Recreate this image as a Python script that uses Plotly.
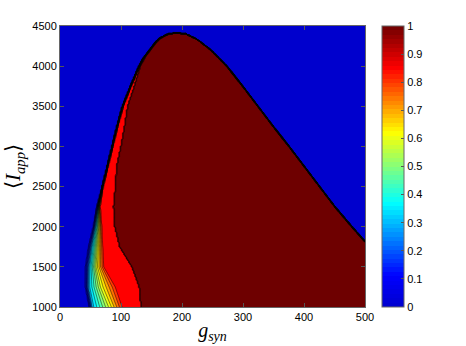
import numpy as np
import plotly.graph_objects as go

i_app = [1000, 1250, 1500, 1750, 2000, 2250, 2500, 2750, 3000, 3250,
         3500, 3750, 4000, 4100, 4200, 4300, 4350, 4400, 4417]
# g_syn where the value leaves 0 (left edge)
g_edge = [47, 41, 41, 46, 54, 60, 69, 77, 85, 93, 102, 115, 129, 136, 146, 156, 163, 176, 191]
# g_syn where the value reaches ~0.3 (light blue)
g_low = [53, 47, 48, 52, 58, 62, 69.5, 77.5, 85.5, 93.5, 102.5, 115.5, 129.5, 136.5, 146.5, 156.5, 163.5, 176.5, 191]
# g_syn where the value reaches ~0.6 (yellow)
g_high = [82, 68, 60, 62, 64, 64, 70, 78, 86, 94, 103, 116, 130, 137, 147, 157, 164, 177, 191]
# g_syn where the red band starts
g_red = [104, 93, 73, 71, 69, 66, 71, 79, 87, 95, 104, 117, 131, 138, 148, 158, 165, 178, 191]
# g_syn where the dark red core (value 1) starts
g_core = [133, 130, 118, 98, 90, 88, 91, 93, 100, 106, 111, 122, 132, 139, 149, 159, 166, 179, 191]
# g_syn where the value drops back to 0 (right edge)
g_right = [593, 564, 536, 507, 478, 450, 425, 400, 375, 349, 324, 299, 273, 260, 247, 230, 220, 206, 191]
red_level = 0.85

x_ticks = [0, 100, 200, 300, 400, 500]
y_ticks = [1000, 1500, 2000, 2500, 3000, 3500, 4000, 4500]
c_ticks = [0, 0.1, 0.2, 0.3, 0.4, 0.5, 0.6, 0.7, 0.8, 0.9, 1]

# jet-like colormap as seen in the colorbar
jet_pos = [0.0, 0.11, 0.37, 0.62, 0.85, 1.0]
jet_rgb = [(0, 0, 205), (0, 0, 255), (0, 255, 255), (255, 255, 0), (255, 0, 0), (110, 0, 0)]


def jet_color(v):
    r, g, b = (np.interp(v, jet_pos, [c[k] for c in jet_rgb]) for k in range(3))
    return f"rgb({int(round(r))},{int(round(g))},{int(round(b))})"


jet_smooth = [[p, jet_color(p)] for p in np.linspace(0, 1, 41)]
jet64 = []
for i in range(64):
    col = jet_color((i + 0.5) / 64)
    jet64.append([i / 64, col])
    jet64.append([(i + 1) / 64, col])

# build the grid for the contour from the read edges
gx = np.arange(0, 501, 2)
gy = np.arange(1000, 4501, 10)
z = np.zeros((len(gy), len(gx)))
for j, yv in enumerate(gy):
    if yv >= i_app[-1]:
        continue
    e = np.interp(yv, i_app, g_edge)
    lo = max(np.interp(yv, i_app, g_low), e + 0.01)
    hi = max(np.interp(yv, i_app, g_high), lo + 0.01)
    r = max(np.interp(yv, i_app, g_red), hi + 0.01)
    c = max(np.interp(yv, i_app, g_core), r + 0.4)
    R = np.interp(yv, i_app, g_right)
    xp = [e, lo, hi, r, c - 0.3, c, R, R + 1]
    fp = [0, 0.3, 0.6, red_level, red_level, 1, 1, 0]
    z[j] = np.interp(gx, xp, fp)

fig = go.Figure()
fig.add_trace(go.Contour(
    x=gx, y=gy, z=z,
    colorscale=jet_smooth,
    autocontour=False,
    contours=dict(start=0.025, end=0.975, size=0.05, coloring='fill', showlines=True),
    line=dict(color='black', width=0.5),
    showscale=False,
    hoverinfo='skip'))

# colorbar only
fig.add_trace(go.Scatter(
    x=[None], y=[None], mode='markers', showlegend=False, hoverinfo='skip',
    marker=dict(color=[0], cmin=0, cmax=1, colorscale=jet64, showscale=True,
                colorbar=dict(x=1.056, xanchor='left', y=0.5, yanchor='middle',
                              len=1, lenmode='fraction', thickness=22, thicknessmode='pixels',
                              outlinecolor='#666', outlinewidth=1,
                              ticks='inside', ticklen=3, tickcolor='#555',
                              tickvals=c_ticks, ticktext=[f"{t:g}" for t in c_ticks],
                              tickfont=dict(family='Liberation Sans', size=11, color='black'),
                              ypad=0, xpad=0))))

axis_style = dict(showline=True, linecolor='#666', linewidth=1, mirror='ticks',
                  ticks='inside', ticklen=4, tickcolor='#555', showgrid=False, zeroline=False,
                  automargin=False,
                  tickfont=dict(family='Liberation Sans', size=11, color='black'))

fig.update_xaxes(range=[0, 500], tickvals=x_ticks, **axis_style,
                 title=dict(text='<i>g</i><sub><i>syn</i></sub>', standoff=0,
                            font=dict(family='Liberation Serif', size=20, color='black')))
fig.update_yaxes(range=[1000, 4500], tickvals=y_ticks, **axis_style,
                 title=dict(text='\u27e8<i>I</i><sub><i>app</i></sub>\u27e9', standoff=5,
                            font=dict(family='Liberation Serif', size=21, color='black')))

fig.update_layout(width=466, height=346,
                  margin=dict(l=60, r=101, t=26, b=39, autoexpand=False),
                  paper_bgcolor='white', plot_bgcolor='white',
                  showlegend=False)

fig.write_html("out.html", config={'displayModeBar': False},
               post_script="document.body.style.margin='0';")
